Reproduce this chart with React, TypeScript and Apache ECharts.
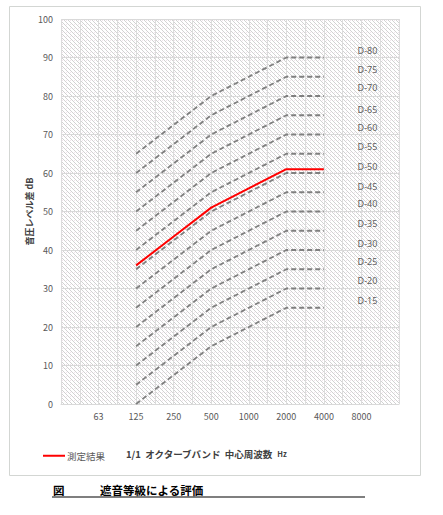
import React, { useEffect, useRef } from "react";
import * as echarts from "echarts";

// X-axis categories (blank at both ends as in the reference)
const categories = [" ", "63", "125", "250", "500", "1000", "2000", "4000", "8000", "  "];
// Bands where the D-curves have break points
const curveBands = ["125", "500", "2000", "4000"];
// D-curve names and values read at curveBands
const dNames = ["D-80", "D-75", "D-70", "D-65", "D-60", "D-55", "D-50", "D-45", "D-40", "D-35", "D-30", "D-25", "D-20", "D-15"];
const dValues = [
  [65, 80, 90, 90],
  [60, 75, 85, 85],
  [55, 70, 80, 80],
  [50, 65, 75, 75],
  [45, 60, 70, 70],
  [40, 55, 65, 65],
  [35, 50, 60, 60],
  [30, 45, 55, 55],
  [25, 40, 50, 50],
  [20, 35, 45, 45],
  [15, 30, 40, 40],
  [10, 25, 35, 35],
  [5, 20, 30, 30],
  [0, 15, 25, 25],
];
// Label heights (dB) of the D-curve names on the right
const dLabelY = [91.9, 86.8, 82.1, 76.6, 71.7, 66.8, 61.8, 56.6, 52.0, 46.8, 41.8, 36.9, 32.0, 26.8];
const dLabelBand = "8000";
// Measured result
const measuredBands = ["125", "250", "500", "1000", "2000", "4000"];
const measuredValues = [36, 43.5, 51, 56, 61, 61];
const yTicks = { min: 0, max: 100, interval: 10 };

const FONT = "'Noto Sans CJK JP', 'Noto Sans', sans-serif";

function makeHatch(): HTMLCanvasElement {
  const c = document.createElement("canvas");
  c.width = 4;
  c.height = 4;
  const ctx = c.getContext("2d")!;
  ctx.fillStyle = "#ffffff";
  ctx.fillRect(0, 0, 4, 4);
  ctx.fillStyle = "#d2d2d2";
  for (let i = 0; i < 4; i++) ctx.fillRect(i, i, 1, 1);
  ctx.fillStyle = "#f0e4ec";
  ctx.fillRect(2, 0, 1, 1);
  return c;
}

export default function App() {
  const ref = useRef<HTMLDivElement>(null);
  useEffect(() => {
    if (!ref.current) return;
    const chart = echarts.init(ref.current, null, { renderer: "svg" });
    const idx = (b: string) => categories.indexOf(b);
    const hatch = makeHatch();

    const dSeries = dNames.map((name, i) => ({
      name,
      type: "line",
      xAxisIndex: 0,
      symbol: "none",
      silent: true,
      data: curveBands.map((b, j) => [idx(b), dValues[i][j]]),
      lineStyle: { color: "#7f7f7f", width: 1.8, type: [5, 3] },
      z: 2,
    }));

    const option: any = {
      animation: false,
      backgroundColor: "#ffffff",
      textStyle: { fontFamily: FONT },
      grid: {
        left: 61,
        right: 44,
        top: 19,
        bottom: 111,
        show: true,
        borderWidth: 0,
        backgroundColor: { image: hatch, repeat: "repeat", imageWidth: 4, imageHeight: 4 },
      },
      legend: {
        data: [{ name: "測定結果", icon: "rect" }],
        left: 38,
        top: 446,
        itemWidth: 22,
        itemHeight: 2,
        itemGap: 4,
        textStyle: { fontSize: 9.5, color: "#595959", fontFamily: FONT, padding: [0, 0, 0, -3] },
      },
      xAxis: [
        {
          type: "category",
          data: categories,
          boundaryGap: false,
          axisLine: { show: true, lineStyle: { color: "#d9d9d9" } },
          axisTick: { show: false },
          axisLabel: { color: "#595959", fontSize: 9, margin: 8, interval: 0, fontFamily: FONT },
          splitLine: { show: true, lineStyle: { color: "#d9d9d9", width: 1 } },
        },
        {
          type: "category",
          data: Array.from({ length: (categories.length - 1) * 2 + 1 }, (_, i) => String(i)),
          boundaryGap: false,
          position: "bottom",
          axisLine: { show: false },
          axisTick: { show: false },
          axisLabel: { show: false },
          splitLine: { show: true, interval: 0, lineStyle: { color: "#dcdcdc", width: 1 } },
        },
      ],
      yAxis: {
        type: "value",
        min: yTicks.min,
        max: yTicks.max,
        interval: yTicks.interval,
        name: "音圧レベル差 dB",
        nameLocation: "middle",
        nameRotate: 90,
        nameGap: 27,
        nameMoveOverlap: false,
        nameTextStyle: { fontSize: 9, fontWeight: "bold", color: "#404040", fontFamily: FONT },
        axisLine: { show: false },
        axisTick: { show: false },
        axisLabel: { color: "#595959", fontSize: 9, margin: 8, fontFamily: FONT },
        splitLine: { show: true, lineStyle: { color: "#d9d9d9", width: 1 } },
      },
      series: [
        ...dSeries,
        {
          name: "測定結果",
          type: "line",
          xAxisIndex: 0,
          symbol: "none",
          data: measuredBands.map((b, j) => [idx(b), measuredValues[j]]),
          lineStyle: { color: "#ff0000", width: 2 },
          itemStyle: { color: "#ff0000" },
          z: 5,
        },
        {
          name: "labels",
          type: "scatter",
          xAxisIndex: 0,
          symbolSize: 1,
          itemStyle: { color: "rgba(0,0,0,0)" },
          silent: true,
          data: dNames.map((n, i) => ({ value: [idx(dLabelBand), dLabelY[i]], name: n })),
          label: {
            show: true,
            position: "inside",
            offset: [6, 0],
            formatter: (p: any) => p.name,
            fontSize: 9,
            color: "#333333",
            fontFamily: "'Noto Sans', sans-serif",
          },
          z: 6,
        },
      ],
      graphic: [
        {
          type: "rect",
          shape: { x: 9.5, y: 6.5, width: 411, height: 469 },
          style: { fill: "none", stroke: "#d3d6d3", lineWidth: 1 },
          silent: true,
        },
        {
          type: "text",
          left: 126,
          top: 449,
          style: {
            text: "{a|1/1  オクターブバンド  中心周波数  }{b|Hz}",
            rich: {
              a: { fontSize: 9.5, fontWeight: "bold", fill: "#404040", fontFamily: FONT },
              b: { fontSize: 7.5, fontWeight: "bold", fill: "#404040", fontFamily: FONT },
            },
          },
        },
        {
          type: "text",
          left: 53,
          top: 484,
          style: { text: "図", fontSize: 11.5, fontWeight: "bold", fill: "#000", fontFamily: FONT },
        },
        {
          type: "text",
          left: 100,
          top: 484,
          style: { text: "遮音等級による評価", fontSize: 11.5, fontWeight: "bold", fill: "#000", fontFamily: FONT },
        },
        {
          type: "line",
          shape: { x1: 52, y1: 497, x2: 365, y2: 497 },
          style: { stroke: "#000", lineWidth: 1.2 },
        },
      ],
    };
    chart.setOption(option);
    return () => chart.dispose();
  }, []);
  return (
    <div
      ref={ref}
      style={{ position: "fixed", left: 0, top: 0, width: 443, height: 515, background: "#fff" }}
    />
  );
}
